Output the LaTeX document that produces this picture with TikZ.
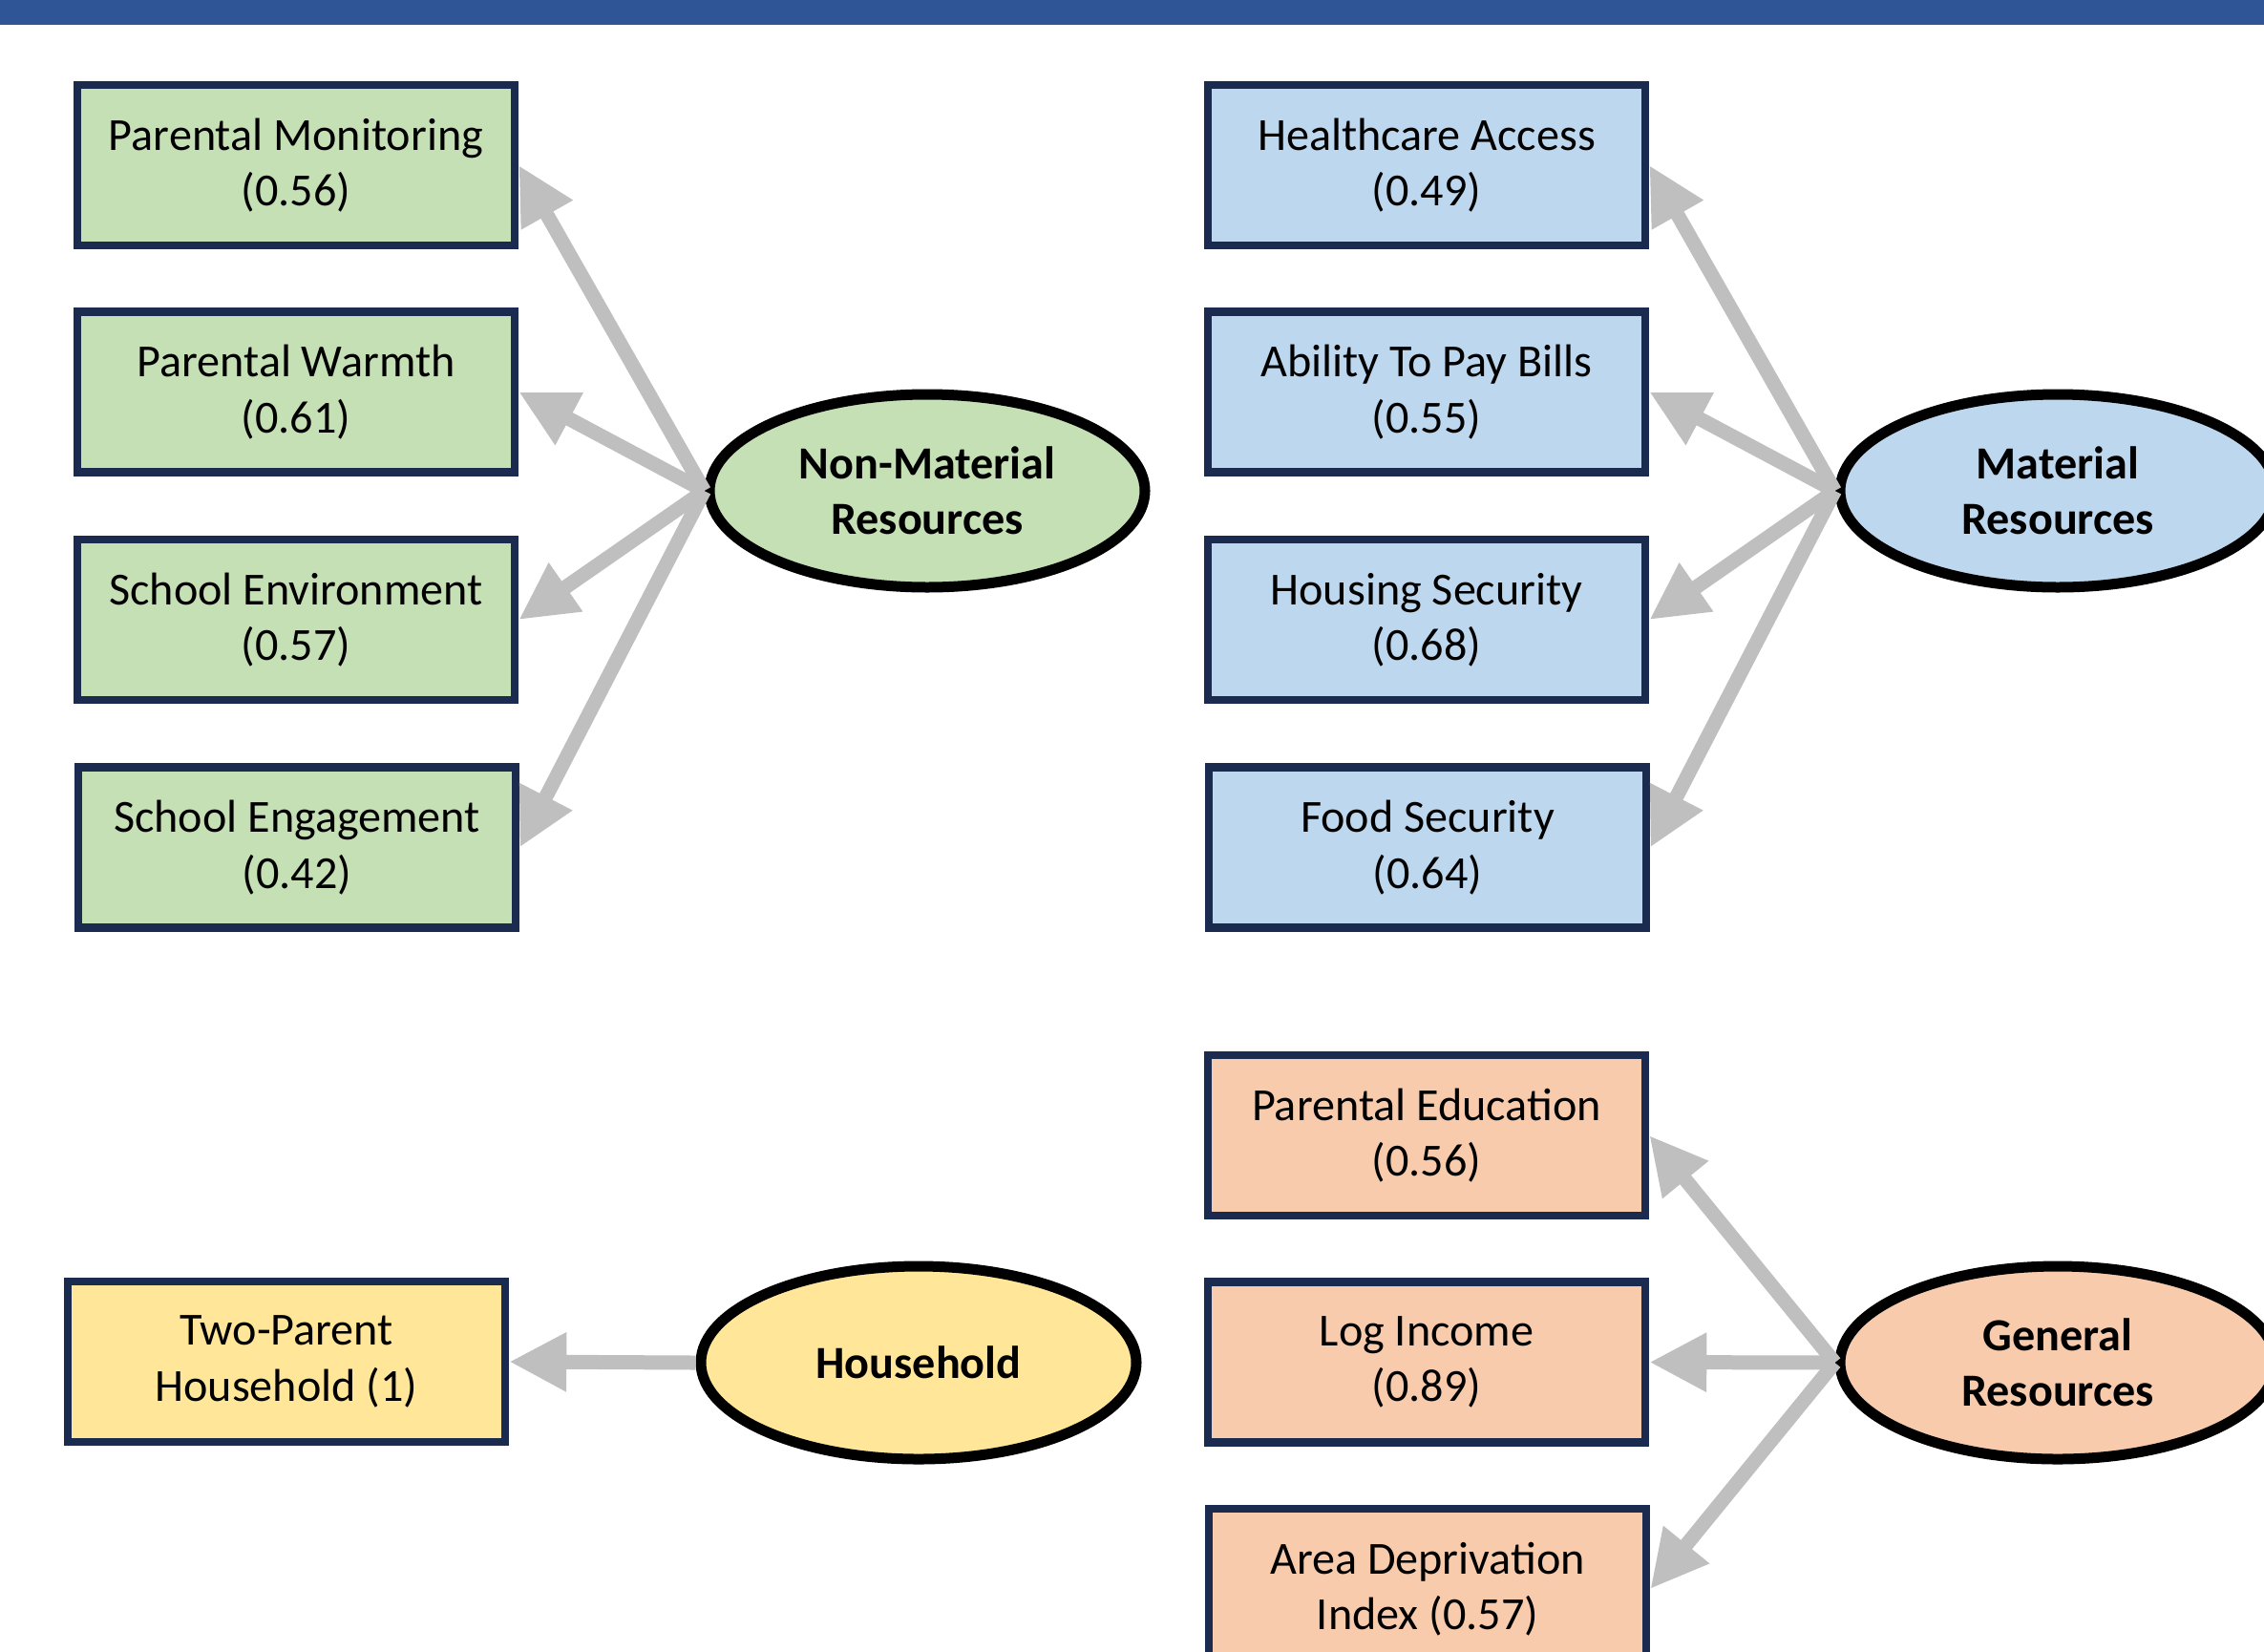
\documentclass[tikz,border=0pt]{standalone}
\usepackage{fontspec}
\setmainfont{Carlito}
\usetikzlibrary{arrows.meta, shapes.geometric}

\definecolor{barblue}{HTML}{2F5597}
\definecolor{boxline}{HTML}{1B2A4F}
\definecolor{nmgreen}{HTML}{C5E0B4}
\definecolor{matblue}{HTML}{BDD7EE}
\definecolor{genorange}{HTML}{F8CBAD}
\definecolor{hhyellow}{HTML}{FFE699}
\definecolor{arrowgray}{HTML}{BFBFBF}

\begin{document}
\begin{tikzpicture}[
    arrow/.style={-{Triangle[length=0.6cm, width=0.58cm]}, line width=0.15cm, draw=arrowgray},
    indicator/.style={rectangle, draw=boxline, line width=0.085cm, minimum width=4.58cm,
                  minimum height=1.68cm, align=center, font=\fontsize{13.7}{16.6}\selectfont},
    latent/.style={ellipse, draw=black, line width=0.11cm, minimum width=4.56cm,
                  minimum height=2.02cm, inner sep=0pt, align=center,
                  font=\fontsize{13.7}{16.6}\selectfont\bfseries}
]
    \clip (0, 0) rectangle (23.71, -17.29);

    % Top bar
    \fill[barblue] (0, 0) rectangle (23.71, -0.26);

    % === Non-material resources ===
    \node[latent, fill=nmgreen] (nonmat) at (9.71, -5.14) {Non-Material\\Resources};
    \node[indicator, fill=nmgreen] (monitor) at (3.10, -1.73) {Parental Monitoring\\(0.56)};
    \node[indicator, fill=nmgreen] (warmth) at (3.10, -4.105) {Parental Warmth\\(0.61)};
    \node[indicator, fill=nmgreen] (schenv) at (3.10, -6.49) {School Environment\\(0.57)};
    \node[indicator, fill=nmgreen] (scheng) at (3.11, -8.875) {School Engagement\\(0.42)};

    \draw[arrow] (nonmat.west) -- (monitor.east);
    \draw[arrow] (nonmat.west) -- (warmth.east);
    \draw[arrow] (nonmat.west) -- (schenv.east);
    \draw[arrow] (nonmat.west) -- (scheng.east);

    % === Material resources ===
    \node[latent, fill=matblue] (mat) at (21.55, -5.14) {Material\\Resources};
    \node[indicator, fill=matblue] (health) at (14.94, -1.73) {Healthcare Access\\(0.49)};
    \node[indicator, fill=matblue] (bills) at (14.94, -4.105) {Ability To Pay Bills\\(0.55)};
    \node[indicator, fill=matblue] (housing) at (14.94, -6.49) {Housing Security\\(0.68)};
    \node[indicator, fill=matblue] (food) at (14.95, -8.875) {Food Security\\(0.64)};

    \draw[arrow] (mat.west) -- (health.east);
    \draw[arrow] (mat.west) -- (bills.east);
    \draw[arrow] (mat.west) -- (housing.east);
    \draw[arrow] (mat.west) -- (food.east);

    % === Household ===
    \node[latent, fill=hhyellow] (household) at (9.62, -14.27) {Household};
    \node[indicator, fill=hhyellow] (twoparent) at (3.00, -14.26) {Two-Parent\\Household (1)};

    \draw[arrow] (household.west) -- (twoparent.east);

    % === General resources ===
    \node[latent, fill=genorange] (general) at (21.55, -14.27) {General\\Resources};
    \node[indicator, fill=genorange] (educ) at (14.94, -11.89) {Parental Education\\(0.56)};
    \node[indicator, fill=genorange] (income) at (14.94, -14.265) {Log Income\\(0.89)};
    \node[indicator, fill=genorange] (depriv) at (14.95, -16.64) {Area Deprivation\\Index (0.57)};

    \draw[arrow] (general.west) -- (educ.east);
    \draw[arrow] (general.west) -- (income.east);
    \draw[arrow] (general.west) -- (depriv.east);

\end{tikzpicture}
\end{document}
